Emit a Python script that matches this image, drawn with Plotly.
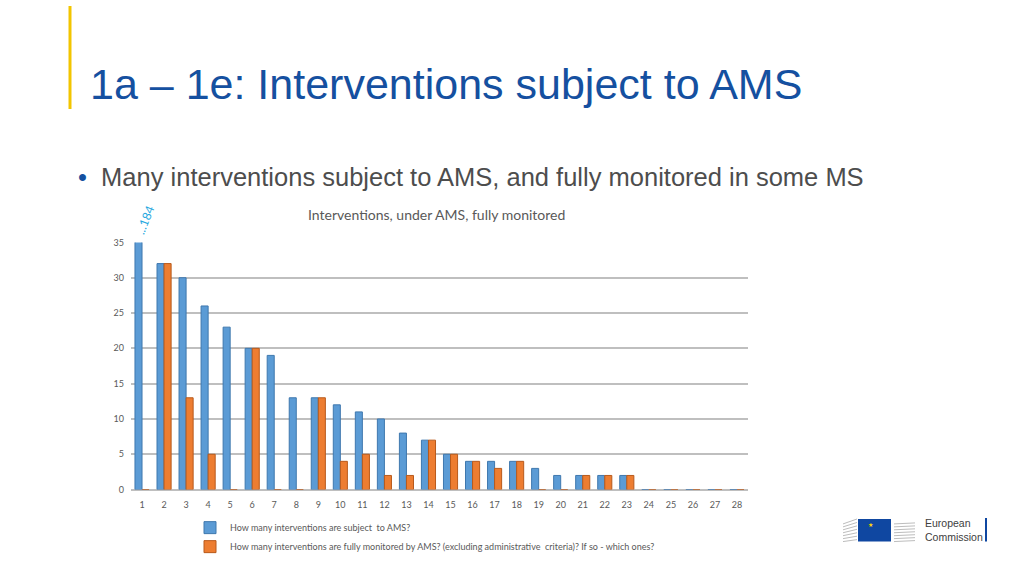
import plotly.graph_objects as go

# data
categories = [str(i) for i in range(1, 29)]
subject_ams = [184, 32, 30, 26, 23, 20, 19, 13, 13, 12, 11, 10, 8, 7,
               5, 4, 4, 4, 3, 2, 2, 2, 2, 0, 0, 0, 0, 0]
fully_monitored = [0, 32, 13, 5, 0, 20, 0, 0, 13, 4, 5, 2, 2, 7,
                   5, 4, 3, 4, 0, 0, 2, 2, 2, 0, 0, 0, 0, 0]
y_ticks = [0, 5, 10, 15, 20, 25, 30, 35]

W, H = 1024, 576
def px(x): return x / W
def py(y): return 1 - y / H

fig = go.Figure()
fig.add_trace(go.Bar(x=categories, y=subject_ams, name='How many interventions are subject  to AMS?',
                     marker=dict(color='#5B9BD5', line=dict(color='#3F78AE', width=1))))
fig.add_trace(go.Bar(x=categories, y=fully_monitored,
                     name='How many interventions are fully monitored by AMS? (excluding administrative  criteria)? If so - which ones?',
                     marker=dict(color='#ED7D31', line=dict(color='#B85A1C', width=1))))

fig.update_layout(
    width=W, height=H, margin=dict(l=0, r=0, t=0, b=0),
    paper_bgcolor='white', plot_bgcolor='white',
    barmode='group', bargap=0.36, bargroupgap=0,
    font=dict(family='Lato, Open Sans, sans-serif', color='#595959'),
    showlegend=True,
    legend=dict(x=px(190), y=py(517), xanchor='left', yanchor='top',
                font=dict(size=9, color='#595959'), itemwidth=30,
                tracegroupgap=0, bgcolor='rgba(0,0,0,0)'),
    xaxis=dict(domain=[px(131), px(748)], tickfont=dict(size=9, color='#595959'),
               showgrid=False, showline=False, ticks='', ticklabelstandoff=8),
    yaxis=dict(domain=[py(493), py(241)], range=[0, 35], tickvals=y_ticks,
               tickfont=dict(size=9, color='#595959'), showgrid=True, ticklabelstandoff=6,
               gridcolor='#BFBFBF', gridwidth=2, zeroline=True, zerolinecolor='#BFBFBF',
               zerolinewidth=2, ticks='', showline=False),
)

# slide decorations
shapes = [
    dict(type='line', xref='paper', yref='paper', x0=px(70), x1=px(70), y0=py(0), y1=py(105),
         line=dict(color='#F2C500', width=3)),
    # EU logo approximation
    dict(type='rect', xref='paper', yref='paper', x0=px(858), x1=px(891), y0=py(523), y1=py(546),
         fillcolor='#0F47A1', line=dict(width=0)),
    dict(type='line', xref='paper', yref='paper', x0=px(986), x1=px(986), y0=py(522), y1=py(546),
         line=dict(color='#0F47A1', width=2)),
]
for i in range(7):
    shapes.append(dict(type='line', xref='paper', yref='paper', x0=px(843), x1=px(857),
                       y0=py(546 - 3 * i), y1=py(546 - 3 * i - 2 - i * 0.5),
                       line=dict(color='#BDBDBD', width=1)))
    shapes.append(dict(type='line', xref='paper', yref='paper', x0=px(894), x1=px(915),
                       y0=py(546 - 3 * i), y1=py(546 - 3 * i - 1),
                       line=dict(color='#BDBDBD', width=1)))
fig.update_layout(shapes=shapes)

annotations = [
    dict(text='1a – 1e: Interventions subject to AMS', x=px(88), y=py(80), xref='paper', yref='paper',
         xanchor='left', yanchor='middle', showarrow=False,
         font=dict(family='Liberation Sans, Arial', size=43, color='#1550A0')),
    dict(text='<span style="color:#1550A0">•</span>  Many interventions subject to AMS, and fully monitored in some MS',
         x=px(76), y=py(174), xref='paper', yref='paper', xanchor='left', yanchor='middle', showarrow=False,
         font=dict(family='Liberation Sans, Arial', size=25.5, color='#4D4D4D')),
    dict(text='Interventions, under AMS, fully monitored', x=px(436), y=py(213), xref='paper', yref='paper',
         xanchor='center', yanchor='middle', showarrow=False,
         font=dict(size=14, color='#595959')),
    dict(text='...' + str(subject_ams[0]), x=px(145), y=py(219), xref='paper', yref='paper',
         xanchor='center', yanchor='middle', showarrow=False, textangle=-68,
         font=dict(size=12, color='#1FA8E0')),
    dict(text='★', x=px(874.5), y=py(534.5), xref='paper', yref='paper', showarrow=False,
         font=dict(size=6, color='#FFD700')),
    dict(text='European<br>Commission', x=px(923), y=py(534), xref='paper', yref='paper',
         xanchor='left', yanchor='middle', showarrow=False, align='left',
         font=dict(family='Liberation Sans, Arial', size=10.5, color='#404040')),
]
fig.update_layout(annotations=annotations)

fig.write_html("out.html", config={'displayModeBar': False},
               post_script="document.body.style.margin='0';")
